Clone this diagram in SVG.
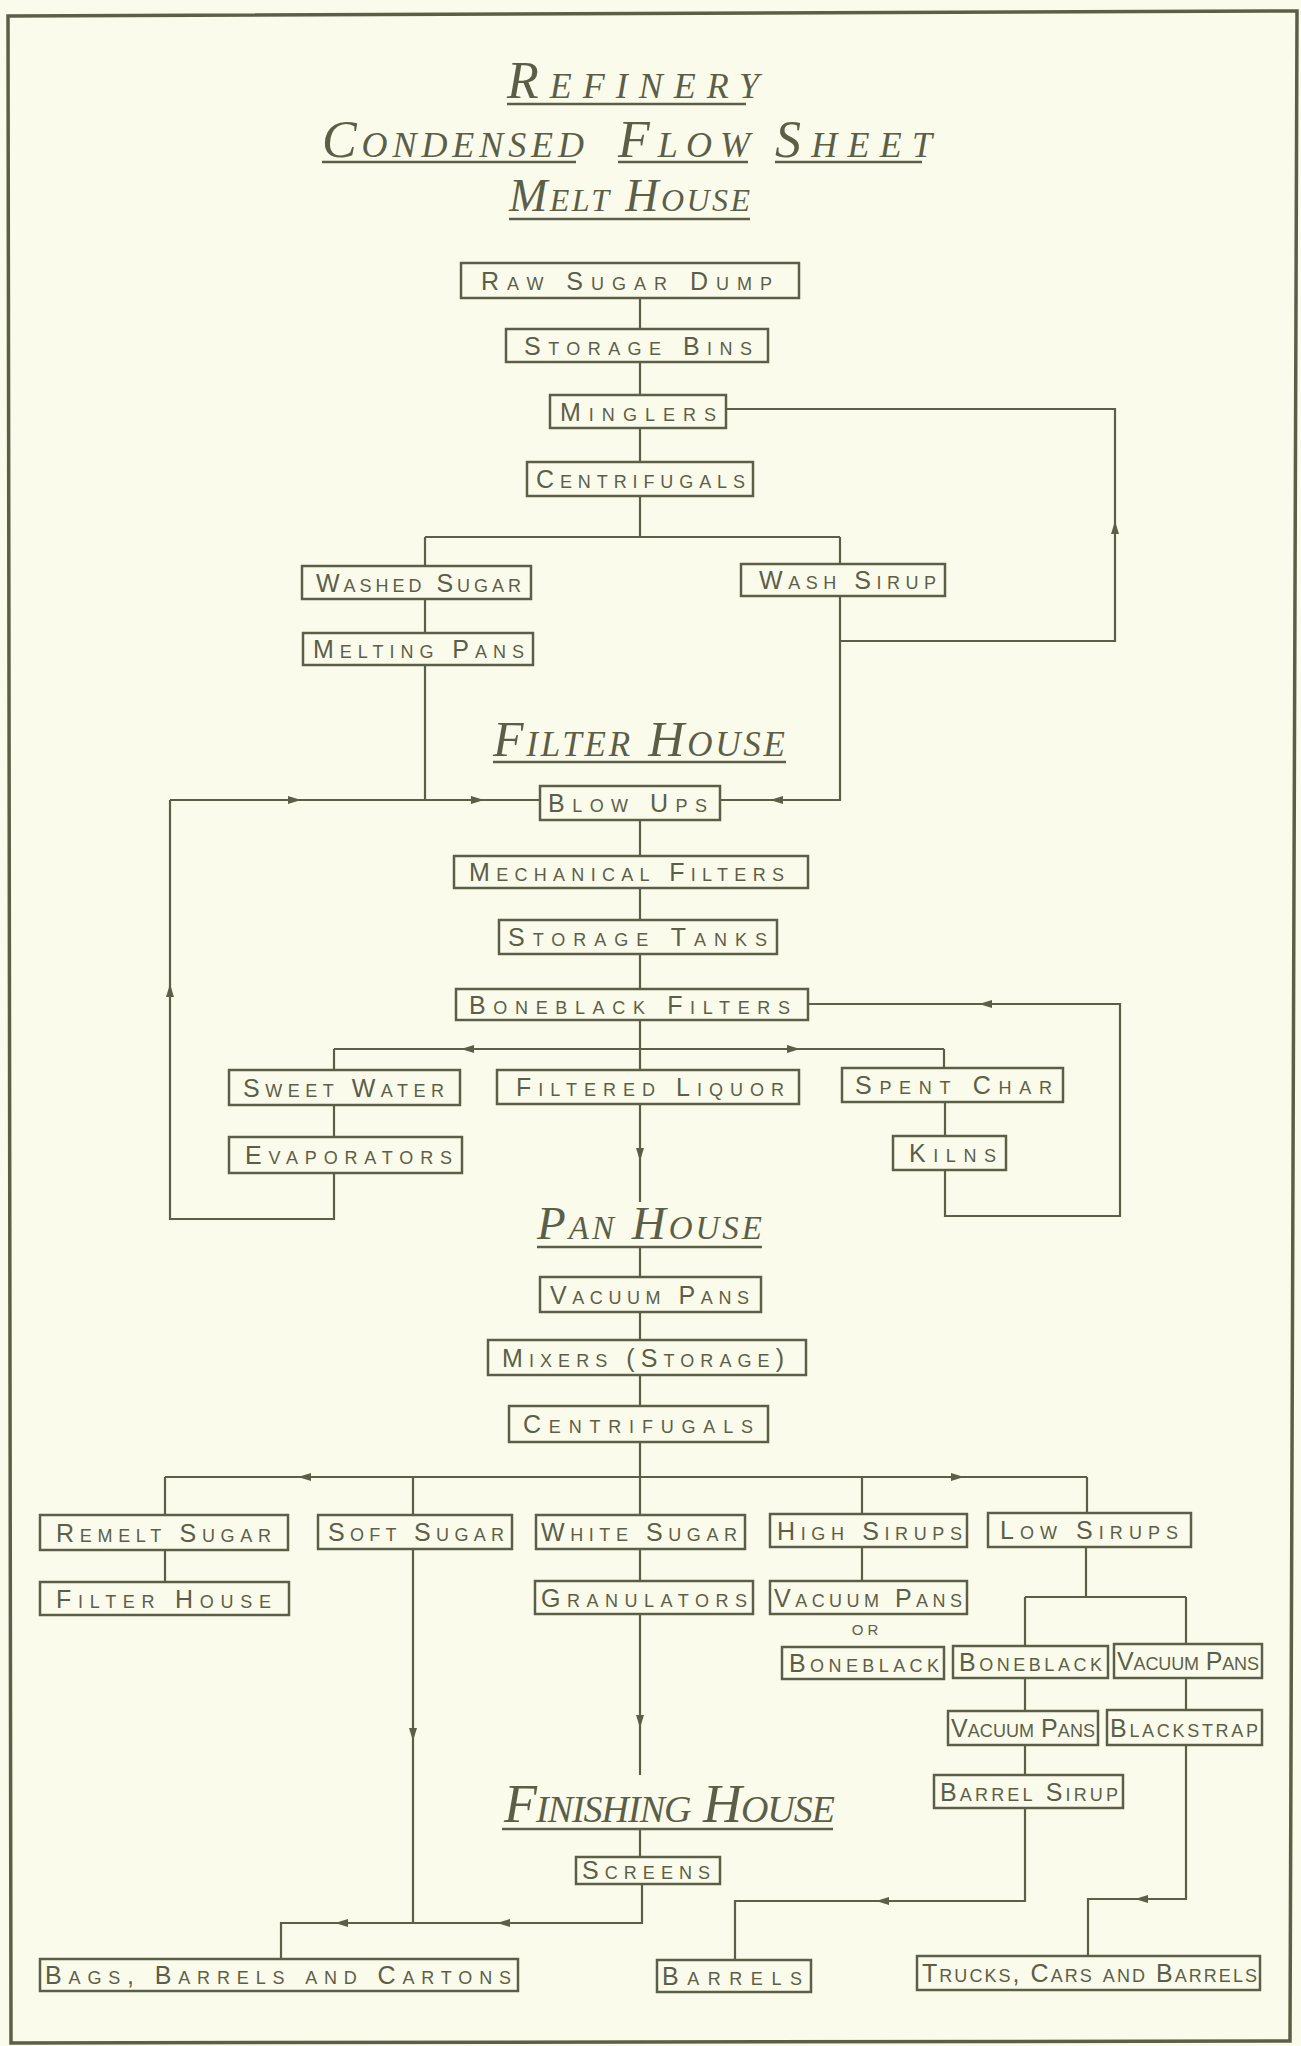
<svg xmlns="http://www.w3.org/2000/svg" xmlns:xlink="http://www.w3.org/1999/xlink" width="1301" height="2046" viewBox="0 0 1301 2046">
<style>
.bx{fill:none;stroke:#5c5f48;stroke-width:2.5}
.lb{font-family:"Liberation Sans",Arial,sans-serif;font-size:25px;font-variant:small-caps;fill:#5c5f48}
.tt{font-family:"Liberation Serif","Times New Roman",serif;font-style:italic;font-variant:small-caps;fill:#5c5f48}
.ul{stroke:#5c5f48;stroke-width:2.6;fill:none}
.cn{fill:none;stroke:#5c5f48;stroke-width:2.2}
.ah{fill:#5c5f48}
</style>
<defs>
<path id="arr" d="M7,0 L-6,-4 L-6,4 Z"/>
</defs>
<rect x="0" y="0" width="1301" height="2046" fill="#fbfbec"/>
<polygon points="8,16 1297,11 1290,2041 11,2043" fill="none" stroke="#5c5f48" stroke-width="3.5"/>

<g id="titles">
<text class="tt" x="507" y="98" font-size="52" textLength="252">Refinery</text>
<line class="ul" x1="507" y1="104" x2="746" y2="104"/>
<text class="tt" x="322" y="157" font-size="52" textLength="262">Condensed</text>
<line class="ul" x1="322" y1="162" x2="576" y2="162"/>
<text class="tt" x="618" y="157" font-size="52" textLength="132">Flow</text>
<line class="ul" x1="618" y1="162" x2="748" y2="162"/>
<text class="tt" x="775" y="157" font-size="52" textLength="157">Sheet</text>
<line class="ul" x1="775" y1="162" x2="922" y2="162"/>
<text class="tt" x="509" y="211" font-size="46" textLength="241">Melt House</text>
<line class="ul" x1="509" y1="219" x2="750" y2="219"/>
<text class="tt" x="493" y="756" font-size="50" textLength="292">Filter House</text>
<line class="ul" x1="493" y1="762" x2="786" y2="762"/>
<text class="tt" x="537" y="1239" font-size="47" textLength="225">Pan House</text>
<line class="ul" x1="537" y1="1247" x2="762" y2="1247"/>
<text class="tt" x="504" y="1822" font-size="54" textLength="331">Finishing House</text>
<line class="ul" x1="502" y1="1829" x2="833" y2="1829"/>
</g>

<g id="connectors">
<path class="cn" d="M640,298V329 M640,362V395 M640,428V462 M640,496V537 M425,537H840 M425,537V566 M840,537V564 M425,599V633 M425,665V800 M840,596V800H720 M726,409H1115V641H840"/>
<path class="cn" d="M170,800H540 M334,1173V1219H170V800"/>
<path class="cn" d="M640,820V856 M640,888V920 M640,954V989 M640,1020V1070 M334,1049H944 M334,1049V1070 M944,1049V1068 M334,1105V1137 M945,1102V1136 M945,1170V1216H1120V1004H808 M640,1104V1202"/>
<path class="cn" d="M640,1247V1277 M640,1312V1340 M640,1375V1406 M640,1442V1515 M165,1477H1087 M165,1477V1515 M413,1477V1515 M862,1477V1514 M1087,1477V1513 M165,1550V1582 M640,1549V1581 M640,1614V1775 M862,1547V1581"/>
<path class="cn" d="M1086,1547V1597 M1025,1597H1186 M1025,1597V1646 M1186,1597V1644 M1025,1678V1711 M1025,1745V1775 M1025,1808V1901H735V1960 M1186,1678V1710 M1186,1745V1899H1088V1956"/>
<path class="cn" d="M640,1829V1857 M642,1883V1923H281V1959 M413,1549V1923"/>
<use xlink:href="#arr" class="ah" transform="translate(777,800) rotate(180)"/>
<use xlink:href="#arr" class="ah" transform="translate(1115,528) rotate(-90)"/>
<use xlink:href="#arr" class="ah" transform="translate(294,800)"/>
<use xlink:href="#arr" class="ah" transform="translate(477,800)"/>
<use xlink:href="#arr" class="ah" transform="translate(170,991) rotate(-90)"/>
<use xlink:href="#arr" class="ah" transform="translate(468,1049) rotate(180)"/>
<use xlink:href="#arr" class="ah" transform="translate(793,1049)"/>
<use xlink:href="#arr" class="ah" transform="translate(986,1004) rotate(180)"/>
<use xlink:href="#arr" class="ah" transform="translate(640,1154) rotate(90)"/>
<use xlink:href="#arr" class="ah" transform="translate(305,1477) rotate(180)"/>
<use xlink:href="#arr" class="ah" transform="translate(957,1477)"/>
<use xlink:href="#arr" class="ah" transform="translate(640,1721) rotate(90)"/>
<use xlink:href="#arr" class="ah" transform="translate(413,1734) rotate(90)"/>
<use xlink:href="#arr" class="ah" transform="translate(883,1901) rotate(180)"/>
<use xlink:href="#arr" class="ah" transform="translate(1142,1899) rotate(180)"/>
<use xlink:href="#arr" class="ah" transform="translate(504,1923) rotate(180)"/>
<use xlink:href="#arr" class="ah" transform="translate(342,1923) rotate(180)"/>
</g>

<g id="n-raw"><rect class="bx" x="461" y="263" width="338" height="35"/><text class="lb" x="481" y="289.5" textLength="291">Raw Sugar Dump</text></g>
<g id="n-bins"><rect class="bx" x="506" y="329" width="262" height="33"/><text class="lb" x="524" y="354.5" textLength="228">Storage Bins</text></g>
<g id="n-minglers"><rect class="bx" x="550" y="395" width="176" height="33"/><text class="lb" x="560" y="420.5" textLength="156">Minglers</text></g>
<g id="n-cent1"><rect class="bx" x="527" y="462" width="226" height="34"/><text class="lb" x="536" y="488" textLength="209">Centrifugals</text></g>
<g id="n-washed"><rect class="bx" x="302" y="566" width="229" height="33"/><text class="lb" x="316" y="591.5" textLength="205">Washed Sugar</text></g>
<g id="n-melting"><rect class="bx" x="303" y="633" width="230" height="32"/><text class="lb" x="313" y="658" textLength="211">Melting Pans</text></g>
<g id="n-washsirup"><rect class="bx" x="741" y="564" width="204" height="32"/><text class="lb" x="759" y="589" textLength="177">Wash Sirup</text></g>
<g id="n-blowups"><rect class="bx" x="540" y="786" width="180" height="34"/><text class="lb" x="548" y="812" textLength="159">Blow Ups</text></g>
<g id="n-mech"><rect class="bx" x="454" y="856" width="354" height="32"/><text class="lb" x="469" y="881" textLength="315">Mechanical Filters</text></g>
<g id="n-tanks"><rect class="bx" x="499" y="920" width="278" height="34"/><text class="lb" x="508" y="946" textLength="259">Storage Tanks</text></g>
<g id="n-bbf"><rect class="bx" x="456" y="989" width="352" height="31"/><text class="lb" x="469" y="1013.5" textLength="321">Boneblack Filters</text></g>
<g id="n-sweet"><rect class="bx" x="229" y="1070" width="231" height="35"/><text class="lb" x="243" y="1096.5" textLength="201">Sweet Water</text></g>
<g id="n-filtered"><rect class="bx" x="497" y="1070" width="302" height="34"/><text class="lb" x="516" y="1096" textLength="268">Filtered Liquor</text></g>
<g id="n-spent"><rect class="bx" x="842" y="1068" width="221" height="34"/><text class="lb" x="855" y="1094" textLength="197">Spent Char</text></g>
<g id="n-evap"><rect class="bx" x="229" y="1137" width="233" height="36"/><text class="lb" x="245" y="1164" textLength="207">Evaporators</text></g>
<g id="n-kilns"><rect class="bx" x="893" y="1136" width="113" height="34"/><text class="lb" x="909" y="1162" textLength="87">Kilns</text></g>
<g id="n-vac1"><rect class="bx" x="540" y="1277" width="221" height="35"/><text class="lb" x="550" y="1303.5" textLength="199">Vacuum Pans</text></g>
<g id="n-mixers"><rect class="bx" x="488" y="1340" width="318" height="35"/><text class="lb" x="502" y="1366.5" textLength="282">Mixers (Storage)</text></g>
<g id="n-cent2"><rect class="bx" x="509" y="1406" width="259" height="36"/><text class="lb" x="523" y="1433" textLength="230">Centrifugals</text></g>
<g id="n-remelt"><rect class="bx" x="40" y="1515" width="248" height="35"/><text class="lb" x="56" y="1541.5" textLength="215">Remelt Sugar</text></g>
<g id="n-soft"><rect class="bx" x="318" y="1515" width="194" height="34"/><text class="lb" x="328" y="1541" textLength="176">Soft Sugar</text></g>
<g id="n-white"><rect class="bx" x="536" y="1515" width="209" height="34"/><text class="lb" x="541" y="1541" textLength="196">White Sugar</text></g>
<g id="n-high"><rect class="bx" x="770" y="1514" width="197" height="33"/><text class="lb" x="777" y="1539.5" textLength="185">High Sirups</text></g>
<g id="n-low"><rect class="bx" x="988" y="1513" width="203" height="34"/><text class="lb" x="1000" y="1539" textLength="178">Low Sirups</text></g>
<g id="n-filterhouse"><rect class="bx" x="40" y="1582" width="249" height="33"/><text class="lb" x="56" y="1607.5" textLength="215">Filter House</text></g>
<g id="n-gran"><rect class="bx" x="535" y="1581" width="218" height="33"/><text class="lb" x="541" y="1606.5" textLength="206">Granulators</text></g>
<g id="n-vac2"><rect class="bx" x="770" y="1581" width="197" height="33"/><text class="lb" x="774" y="1606.5" textLength="188">Vacuum Pans</text></g>
<g id="n-or"><text x="867" y="1635" text-anchor="middle" font-family="Liberation Sans,Arial,sans-serif" font-size="15" letter-spacing="4" fill="#5c5f48">OR</text></g>
<g id="n-bb1"><rect class="bx" x="782" y="1647" width="162" height="32"/><text class="lb" x="789" y="1672" textLength="150">Boneblack</text></g>
<g id="n-bb2"><rect class="bx" x="953" y="1646" width="155" height="32"/><text class="lb" x="959" y="1671" textLength="143">Boneblack</text></g>
<g id="n-vac3"><rect class="bx" x="1114" y="1644" width="148" height="34"/><text class="lb" x="1117" y="1670" textLength="142">Vacuum Pans</text></g>
<g id="n-vac4"><rect class="bx" x="948" y="1711" width="150" height="34"/><text class="lb" x="951" y="1737" textLength="144">Vacuum Pans</text></g>
<g id="n-black"><rect class="bx" x="1107" y="1710" width="155" height="35"/><text class="lb" x="1110" y="1736.5" textLength="148">Blackstrap</text></g>
<g id="n-barrelsirup"><rect class="bx" x="934" y="1775" width="189" height="33"/><text class="lb" x="940" y="1800.5" textLength="178">Barrel Sirup</text></g>
<g id="n-screens"><rect class="bx" x="576" y="1857" width="144" height="27"/><text class="lb" x="582" y="1879" textLength="128">Screens</text></g>
<g id="n-bags"><rect class="bx" x="40" y="1959" width="478" height="32"/><text class="lb" x="45" y="1984" textLength="466">Bags, Barrels and Cartons</text></g>
<g id="n-barrels"><rect class="bx" x="657" y="1960" width="154" height="32"/><text class="lb" x="662" y="1985" textLength="140">Barrels</text></g>
<g id="n-trucks"><rect class="bx" x="917" y="1956" width="343" height="34"/><text class="lb" x="922" y="1982" textLength="335">Trucks, Cars and Barrels</text></g>
</svg>
